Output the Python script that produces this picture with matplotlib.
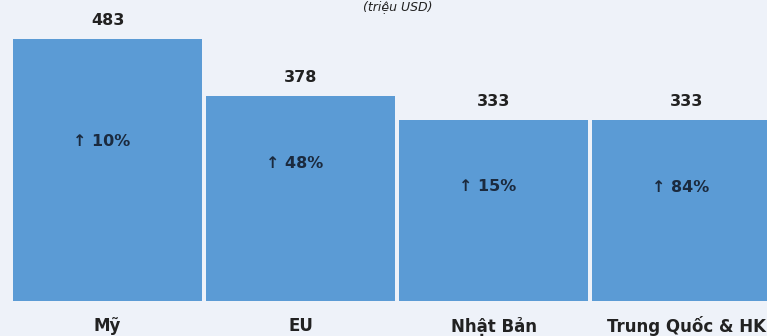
import matplotlib
matplotlib.use("Agg")
import matplotlib.pyplot as plt

# data
markets = ["Mỹ", "EU", "Nhật Bản", "Trung Quốc & HK"]
values = [483, 378, 333, 333]
growth = ["↑ 10%", "↑ 48%", "↑ 15%", "↑ 84%"]

BG = "#EEF2F9"
BAR = "#5B9BD5"
DARK = "#222222"
NAVY = "#1B2A3E"

# where the growth label sits, as a share of the bar height
label_frac = [0.61, 0.67, 0.635, 0.63]

fig = plt.figure(figsize=(7.67, 3.36), dpi=100)
fig.patch.set_facecolor(BG)
ax = fig.add_axes([0, 35 / 336, 1, 301 / 336])
ax.set_facecolor(BG)

x = range(len(markets))
ax.bar(x, values, width=0.98, color=BAR, linewidth=0)

ax.set_xlim(-0.557, 3.417)
ax.set_ylim(0, 483 * 301 / 262)
ax.axis("off")

for i, v in enumerate(values):
    ax.annotate(f"{v}", (i, v), xytext=(0, 8), textcoords="offset points",
                ha="center", va="bottom", fontsize=11.5, fontweight="bold", color=DARK)
    ax.text(i - 0.03, v * label_frac[i], growth[i], ha="center", va="center",
            fontsize=11.5, fontweight="bold", color=NAVY)
    ax.annotate(markets[i], (i, 0), xytext=(0, -18), textcoords="offset points",
                ha="center", va="center", fontsize=12, fontweight="bold", color=DARK,
                annotation_clip=False)

fig.text(398 / 767, 1 - 1 / 336, "(triệu USD)", ha="center", va="top",
         fontsize=9, style="italic", color=DARK)

fig.savefig("out.png", facecolor=BG)
